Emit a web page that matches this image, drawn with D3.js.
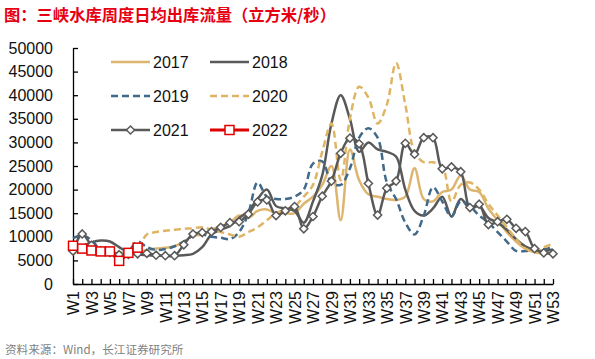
<!DOCTYPE html>
<html><head><meta charset="utf-8">
<script src="https://cdn.jsdelivr.net/npm/d3@7/dist/d3.min.js"></script>
<style>
body{margin:0;background:#fff;}
svg{display:block;}
</style></head>
<body>
<svg id="c" width="595" height="359"></svg>
<script>
const weeks = ["W1","W2","W3","W4","W5","W6","W7","W8","W9","W10","W11","W12","W13","W14","W15","W16","W17","W18","W19","W20","W21","W22","W23","W24","W25","W26","W27","W28","W29","W30","W31","W32","W33","W34","W35","W36","W37","W38","W39","W40","W41","W42","W43","W44","W45","W46","W47","W48","W49","W50","W51","W52","W53"];
const yTicks = [0,5000,10000,15000,20000,25000,30000,35000,40000,45000,50000];
const seriesNames = ["2017","2018","2019","2020","2021","2022"];
const s2017 = [6200,7500,7000,6500,6300,6200,6300,6600,7200,7500,7700,8000,9000,10200,10500,11500,12200,13000,14500,14000,15500,15800,15000,15000,15000,17000,18500,21000,25000,13500,28500,22000,19000,18500,18000,17800,18500,24500,18000,17500,19500,20000,23000,20000,19500,16000,13500,11000,9000,7500,6700,6500,6800];
const s2018 = [7500,8000,8800,9200,9000,7800,6700,6300,6100,6000,6000,6000,6100,6400,7800,10500,11500,12300,14000,15500,18000,20000,16500,16000,15500,13000,17500,23000,34000,40000,35000,28000,30000,28500,28000,27000,20000,15500,14500,16000,18500,14300,18000,16000,16500,14000,13000,11500,9500,8000,7200,7000,7300];
const s2019 = [9700,10300,9300,7200,6700,6500,7000,9000,7800,7200,7400,8000,9000,10200,10500,10000,9800,9500,11000,15000,21500,18500,18000,18000,18500,20000,25500,26000,21500,21000,24500,31000,33000,31000,21500,18000,13000,10500,14500,20500,17500,14300,17500,16500,14500,13000,11000,9000,7000,7000,7200,7300,7800];
const s2020 = [7000,6800,6600,6500,6500,6600,6800,7500,10500,11000,11300,11500,11700,11800,12000,11500,11000,10500,10000,11000,12000,13500,15000,15800,16500,18500,21000,28000,34000,22000,35000,41800,39500,34000,38000,46800,38000,28000,25800,25800,25000,17500,21000,21500,20000,17000,14500,12000,9500,7500,7000,7800,8500];
const s2021 = [7000,10600,8200,7000,6700,6200,6300,6400,6500,6100,6000,6000,8300,10600,10900,11100,12000,13000,13200,14800,17400,17800,14500,15500,16400,11700,14300,18600,21800,27700,30900,29700,21300,14600,20300,21800,29800,27500,31000,31000,24400,24800,23800,16200,16900,12600,13200,13700,11800,11100,7500,6600,6400];
const s2022 = [8100,7500,7100,6900,6900,4900,6600,7700];

const styles = {
  "2017":{color:"#DDB56E",dash:null,marker:null},
  "2018":{color:"#595959",dash:null,marker:null},
  "2019":{color:"#40698A",dash:"7,4",marker:null},
  "2020":{color:"#DFB565",dash:"7,4",marker:null},
  "2021":{color:"#595959",dash:null,marker:"diamond"},
  "2022":{color:"#E00000",dash:null,marker:"square"}
};
const data = {"2017":s2017,"2018":s2018,"2019":s2019,"2020":s2020,"2021":s2021,"2022":s2022};

const svg = d3.select("#c");
const x = d3.scalePoint().domain(weeks).range([73,553]);
const y = d3.scaleLinear().domain([0,50000]).range([284,48]);

svg.append("text").attr("x",4).attr("y",21)
  .attr("font-family","'Noto Sans CJK SC'").attr("font-weight","bold")
  .attr("font-size",16.3).attr("fill","#E60012")
  .text("图：三峡水库周度日均出库流量（立方米/秒）");

svg.append("text").attr("x",5).attr("y",354)
  .attr("font-family","'Noto Sans CJK SC'").attr("font-size",11.6).attr("fill","#7F7F7F")
  .text("资料来源：Wind，长江证券研究所");

const gy = svg.append("g").attr("transform","translate(73,0)")
  .call(d3.axisLeft(y).tickValues(yTicks).tickSizeInner(-5).tickSizeOuter(0).tickPadding(20).tickFormat(d3.format("d")));
gy.selectAll("text").attr("font-family","'Liberation Sans',Arial").attr("font-size",16).attr("fill","#111");
gy.selectAll("line,path").attr("stroke","#000").attr("stroke-width",1.3);

const gx = svg.append("g").attr("transform","translate(0,284)")
  .call(d3.axisBottom(x).tickSizeInner(-5).tickSizeOuter(0).tickFormat((d,i)=> i%2===0? d : ""));
gx.selectAll("line,path").attr("stroke","#000").attr("stroke-width",1.3);
gx.selectAll("text").attr("font-family","'Liberation Sans',Arial").attr("font-size",16).attr("fill","#111")
  .attr("transform","rotate(-90)").attr("x",-7).attr("y",0).attr("dy","0.36em").attr("text-anchor","end");

const line = d3.line().x((d,i)=>x(weeks[i])).y(d=>y(d)).curve(d3.curveCatmullRom.alpha(0.5));
const plot = svg.append("g");
const diamond = d3.symbol(d3.symbolDiamond2 ? d3.symbolDiamond2 : d3.symbolDiamond, 42)();
seriesNames.forEach(name=>{
  const st = styles[name];
  plot.append("path").datum(data[name]).attr("d",line)
    .attr("fill","none").attr("stroke",st.color).attr("stroke-width",name==="2022"?2.8:2.5)
    .attr("stroke-dasharray",st.dash).attr("stroke-linejoin","round");
  if(st.marker==="diamond"){
    plot.selectAll(null).data(data[name]).enter().append("path")
      .attr("d",diamond)
      .attr("transform",(d,i)=>`translate(${x(weeks[i])},${y(d)})`)
      .attr("fill","#fff").attr("stroke",st.color).attr("stroke-width",1.5);
  } else if(st.marker==="square"){
    plot.selectAll(null).data(data[name]).enter().append("rect")
      .attr("x",(d,i)=>x(weeks[i])-4.5).attr("y",d=>y(d)-4.5).attr("width",9).attr("height",9)
      .attr("fill","#fff").attr("stroke",st.color).attr("stroke-width",1.5);
  }
});

const legendPos = [
  {name:"2017",x:111,y:62},{name:"2018",x:210,y:62},
  {name:"2019",x:111,y:96},{name:"2020",x:210,y:96},
  {name:"2021",x:111,y:130},{name:"2022",x:210,y:130}
];
const lg = svg.append("g");
legendPos.forEach(p=>{
  const st = styles[p.name];
  lg.append("line").attr("x1",p.x).attr("x2",p.x+39).attr("y1",p.y).attr("y2",p.y)
    .attr("stroke",st.color).attr("stroke-width",p.name==="2022"?2.8:2.5).attr("stroke-dasharray",st.dash);
  if(st.marker==="diamond"){
    lg.append("path").attr("d",diamond)
      .attr("transform",`translate(${p.x+19.5},${p.y})`).attr("fill","#fff").attr("stroke",st.color).attr("stroke-width",1.5);
  } else if(st.marker==="square"){
    lg.append("rect").attr("x",p.x+15).attr("y",p.y-4.5).attr("width",9).attr("height",9)
      .attr("fill","#fff").attr("stroke",st.color).attr("stroke-width",1.5);
  }
  lg.append("text").attr("x",p.x+42).attr("y",p.y).attr("dy","0.36em")
    .attr("font-family","'Liberation Sans',Arial").attr("font-size",16).attr("fill","#111").text(p.name);
});
</script>
</body></html>
